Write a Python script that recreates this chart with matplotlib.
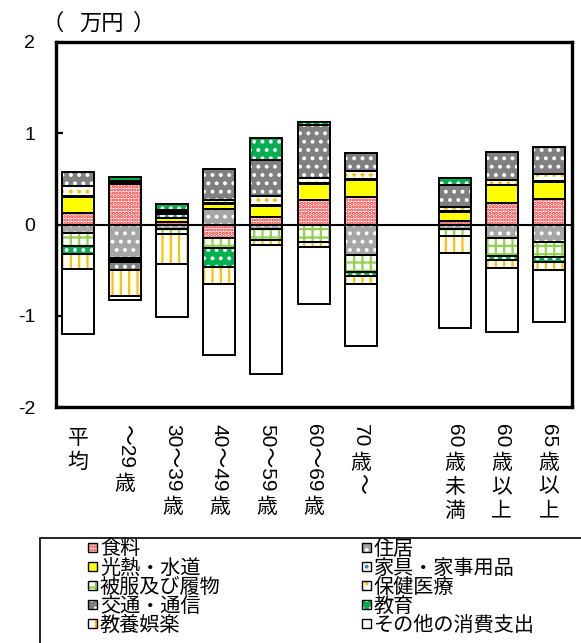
import numpy as np
import matplotlib
matplotlib.use("Agg")
import matplotlib.pyplot as plt
from matplotlib.patches import Rectangle
from matplotlib.transforms import blended_transform_factory

W, H = 581, 643

categories = ["平均", "～29歳", "30～39歳", "40～49歳", "50～59歳", "60～69歳",
              "70歳～", "60歳未満", "60歳以上", "65歳以上"]
positions = [0, 1, 2, 3, 4, 5, 6, 8, 9, 10]

series = ["食料", "住居", "光熱・水道", "家具・家事用品", "被服及び履物",
          "保健医療", "交通・通信", "教育", "教養娯楽", "その他の消費支出"]

food =      [0.126, 0.44, 0.022, -0.145, 0.08, 0.27, 0.30, 0.04, 0.24, 0.28]
housing =   [-0.09, -0.37, -0.045, 0.174, -0.05, -0.005, -0.334, -0.044, -0.152, -0.19]
utilities = [0.174, -0.02, 0.05, 0.054, 0.12, 0.17, 0.19, 0.10, 0.19, 0.19]
furniture = [0.01, 0.025, 0.04, 0.012, 0.01, 0.02, 0.005, 0.005, 0.005, 0.005]
clothing =  [-0.15, -0.025, -0.064, -0.115, -0.12, -0.19, -0.19, -0.083, -0.19, -0.17]
medical =   [0.11, 0.015, 0.02, 0.03, 0.10, 0.05, 0.09, 0.05, 0.05, 0.075]
transport = [0.155, -0.082, 0.023, 0.34, 0.40, 0.58, 0.20, 0.24, 0.31, 0.30]
education = [-0.083, 0.037, 0.072, -0.21, 0.243, 0.03, -0.035, 0.08, -0.043, -0.05]
culture =   [-0.16, -0.29, -0.32, -0.18, -0.06, -0.05, -0.09, -0.18, -0.09, -0.09]
other =     [-0.72, -0.036, -0.59, -0.78, -1.41, -0.63, -0.68, -0.825, -0.70, -0.57]

values = [food, housing, utilities, furniture, clothing,
          medical, transport, education, culture, other]

# face colour, hatch, hatch colour
styles = [
    ("#ffffff", ".....", "#ff2020"),
    ("#a6a6a6", "..", "#ffffff"),
    ("#ffff00", "", "#ffff00"),
    ("#ffffff", "..", "#3d85c6"),
    ("#ffffff", "++", "#92d050"),
    ("#ffffff", "..", "#ffc000"),
    ("#808080", "..", "#ffffff"),
    ("#00b050", "..", "#ffffff"),
    ("#ffffff", "||", "#ffc000"),
    ("#ffffff", "", "#ffffff"),
]

plt.rcParams["hatch.linewidth"] = 1.6
cjk = ["Liberation Sans", "Noto Sans CJK JP"]

fig = plt.figure(figsize=(W / 100, H / 100), dpi=100)
ax = fig.add_axes([56 / W, 1 - 407 / H, (572 - 56) / W, (407 - 42) / H])

x = np.array(positions, dtype=float)
pos_base = np.zeros(len(x))
neg_base = np.zeros(len(x))
width = 0.68
for vals, (fc, hatch, hc) in zip(values, styles):
    v = np.array(vals)
    bottom = np.where(v >= 0, pos_base, neg_base)
    ax.bar(x, v, width, bottom=bottom, color=fc, hatch=hatch, edgecolor=hc,
           linewidth=0, zorder=2)
    ax.bar(x, v, width, bottom=bottom, fill=False, edgecolor="black",
           linewidth=1.4, zorder=3)
    pos_base = pos_base + np.where(v >= 0, v, 0)
    neg_base = neg_base + np.where(v < 0, v, 0)

ax.axhline(0, color="black", linewidth=1.5, zorder=4)

ax.set_xlim(-0.47, 10.49)
ax.set_ylim(-2, 2)
ax.set_yticks([-2, -1, 0, 1, 2])
ax.set_yticklabels(["-2", "-1", "0", "1", "2"])
ax.set_xticks([])
ax.tick_params(axis="y", direction="in", length=5, width=1.6, pad=15,
               labelsize=14)
for lab in ax.get_yticklabels():
    lab.set_family("Liberation Sans")
for sp in ax.spines.values():
    sp.set_linewidth(2.4)

# unit label, parens spaced apart like the original
for xc, s in [(53, "（"), (101, "万円"), (144, "）")]:
    fig.text(xc / W, 1 - 22 / H, s, family=cjk, fontsize=16,
             ha="center", va="center_baseline")

# vertical (tategaki) category labels
renderer = fig.canvas.get_renderer()
trans = blended_transform_factory(ax.transData, fig.transFigure)
rot_chars = set("0123456789～")
em = 24.0


def tokens(label):
    out = []
    for ch in label:
        rot = ch in rot_chars
        if out and out[-1][1] and rot:
            out[-1][0] += ch
        else:
            out.append([ch, rot])
    return out


for xp, label in zip(positions, categories):
    y = 424.0
    for tok, rot in tokens(label):
        if rot:
            t = ax.text(xp, 1 - y / H, tok, transform=trans, family=cjk,
                        fontsize=15, rotation=-90, ha="center", va="top")
            bb = t.get_window_extent(renderer)
            y += bb.height + 2
        else:
            ax.text(xp, 1 - (y + em / 2) / H, tok, transform=trans, family=cjk,
                    fontsize=15, ha="center", va="center_baseline")
            y += em

# legend box (cut off by the bottom edge like the original)
fig.add_artist(Rectangle((40 / W, -20 / H), 600 / W, (643 - 538 + 20) / H,
                         transform=fig.transFigure, fill=False,
                         edgecolor="black", linewidth=1.2, clip_on=False))
col_x = [88, 362]
row_y = [547, 566, 585, 604, 623]
for i, (name, (fc, hatch, hc)) in enumerate(zip(series, styles)):
    cx = col_x[i % 2]
    cy = row_y[i // 2]
    fig.add_artist(Rectangle((cx / W, 1 - (cy + 4.5) / H), 9 / W, 9 / H,
                             transform=fig.transFigure, facecolor=fc,
                             hatch=hatch, edgecolor=hc, linewidth=0))
    fig.add_artist(Rectangle((cx / W, 1 - (cy + 4.5) / H), 9 / W, 9 / H,
                             transform=fig.transFigure, fill=False,
                             edgecolor="black", linewidth=1.0))
    fig.text((cx + 12) / W, 1 - cy / H, name, family=cjk, fontsize=14.5,
             ha="left", va="center_baseline")

fig.savefig("out.png", dpi=100)
